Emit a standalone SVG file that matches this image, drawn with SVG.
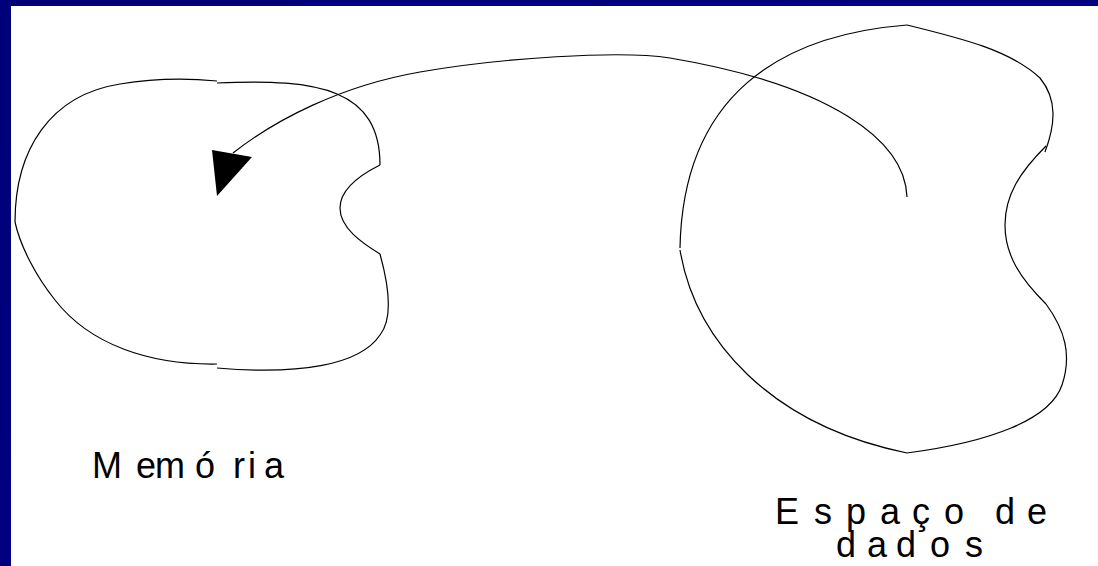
<svg xmlns="http://www.w3.org/2000/svg" width="1098" height="566" viewBox="0 0 1098 566">
<defs>
<linearGradient id="bg" x1="0" y1="0" x2="1" y2="1">
<stop offset="0" stop-color="#00007a"/>
<stop offset="1" stop-color="#000088"/>
</linearGradient>
</defs>
<style>
.o{fill:none;stroke:#000;stroke-width:1.2}
.t{font-family:"Liberation Sans",Arial,sans-serif;font-size:36px;fill:#000}
</style>
<rect x="0" y="0" width="1098" height="566" fill="url(#bg)"/>
<rect x="11" y="6" width="1087" height="560" fill="#fff"/>
<g id="memoria">
<path class="o" d="M15,222 C15,150 50,95 120,84 C150,79 185,78 217,81"/>
<path class="o" d="M217,83 C320,78 380,90 380,165"/>
<path class="o" d="M380,165 C360,175 340,190 340,208 C340,228 362,243 380,254"/>
<path class="o" d="M380,254 C390,290 392,320 380,335 C360,365 300,375 217,368"/>
<path class="o" d="M217,364 C150,365 90,345 55,300 C35,275 20,245 15,222"/>
<text class="t" y="478"><tspan x="92">M</tspan><tspan x="136">e</tspan><tspan x="155">m</tspan><tspan x="195">ó</tspan><tspan x="233">r</tspan><tspan x="248">i</tspan><tspan x="264">a</tspan></text>
</g>
<g id="espaco">
<path class="o" d="M907,25 C780,35 683,95 680,248"/>
<path class="o" d="M680,250 C695,340 770,425 907,453"/>
<path class="o" d="M907,453 C990,442 1050,420 1062,385 C1072,355 1065,330 1046,304"/>
<path class="o" d="M1046,304 C1020,278 1005,255 1005,225 C1005,195 1020,172 1046,146"/>
<path class="o" d="M1045,152 C1055,125 1058,100 1040,78 C1010,50 960,38 907,25"/>
<text class="t" y="524"><tspan x="775">E</tspan><tspan x="814">s</tspan><tspan x="846">p</tspan><tspan x="880">a</tspan><tspan x="912">ç</tspan><tspan x="944">o</tspan><tspan x="995">d</tspan><tspan x="1027">e</tspan></text>
<text class="t" y="557"><tspan x="836">d</tspan><tspan x="867">a</tspan><tspan x="896">d</tspan><tspan x="930">o</tspan><tspan x="965">s</tspan></text>
</g>
<g id="connectors">
<path class="o" d="M907,197 C905,140 830,85 670,58 C620,50 500,58 420,72 C340,86 275,120 233,153"/>
<polygon points="212,150 252,157 217,196" fill="#000"/>
</g>
</svg>
